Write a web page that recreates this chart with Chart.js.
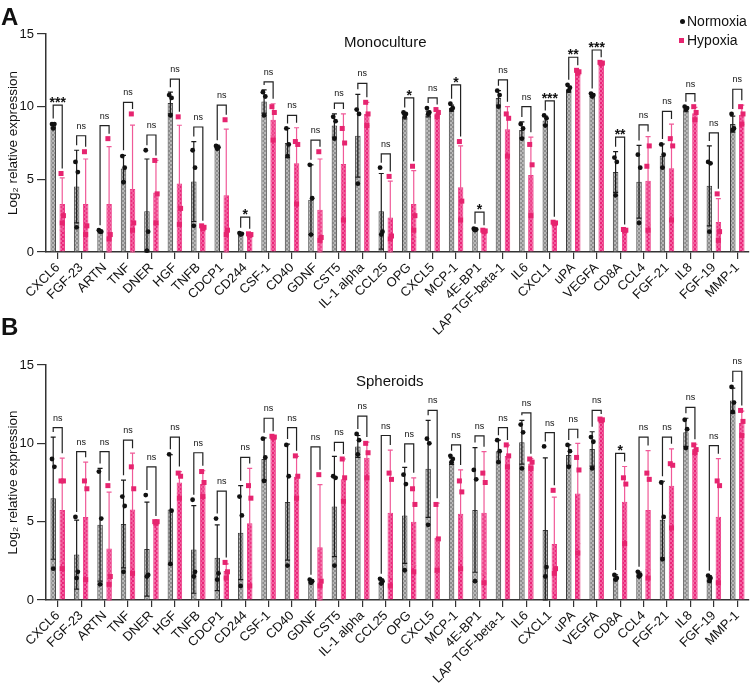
<!DOCTYPE html>
<html lang="en">
<head>
<meta charset="UTF-8">
<title>Monoculture / Spheroids</title>
<script src="https://cdn.jsdelivr.net/npm/chart.js"></script>
<style>
  body { margin: 0; background: #fff; font-family: 'Liberation Sans', Arial, sans-serif; }
  #wrap { position: relative; width: 750px; height: 690px; }
  canvas { position: absolute; left: 0; }
  .txt { position: absolute; white-space: nowrap; color: #111; }
  .letter { font-weight: bold; font-size: 24px; line-height: 24px; }
  .title { font-size: 15px; line-height: 15px; }
  .leg { font-size: 14px; line-height: 14px; }
  .dot { position: absolute; width: 5px; height: 5px; border-radius: 50%; background: #111; }
  .sq { position: absolute; width: 5px; height: 5px; background: #e6246f; }
</style>
</head>
<body>
<div id="wrap">
  <canvas id="chartA" width="750" height="345" style="top:0"></canvas>
  <canvas id="chartB" width="750" height="360" style="top:330px"></canvas>

  <div class="txt letter" style="left:1px; top:5px;">A</div>
  <div class="txt letter" style="left:1px; top:315px;">B</div>
  <div class="txt title" style="left:344px; top:34px;">Monoculture</div>
  <div class="txt title" style="left:356px; top:373px;">Spheroids</div>

  <div class="dot" style="left:680px; top:19px;"></div>
  <div class="txt leg" style="left:687px; top:14px;">Normoxia</div>
  <div class="sq" style="left:679px; top:38px;"></div>
  <div class="txt leg" style="left:687px; top:33px;">Hypoxia</div>
</div>

<script>
// categories (same for both panels)
const labels = ['CXCL6', 'FGF-23', 'ARTN', 'TNF', 'DNER', 'HGF', 'TNFB', 'CDCP1', 'CD244', 'CSF-1',
  'CD40', 'GDNF', 'CST5', 'IL-1 alpha', 'CCL25', 'OPG', 'CXCL5', 'MCP-1', '4E-BP1', 'LAP TGF-beta-1',
  'IL6', 'CXCL1', 'uPA', 'VEGFA', 'CD8A', 'CCL4', 'FGF-21', 'IL8', 'FGF-19', 'MMP-1'];
const yTicks = [0, 5, 10, 15];

// A: Monoculture
const monoNormMean = [8.7, 4.5, 1.45, 5.75, 2.8, 10.25, 4.85, 7.25, 1.27, 10.35, 7.5, 3.6, 8.7, 8.0, 2.8,
  9.3, 9.5, 9.9, 1.55, 10.6, 8.4, 9.05, 11.2, 10.8, 5.5, 4.83, 6.63, 9.8, 4.55, 8.8];
const monoNormSD = [0.15, 2.5, 0.05, 0.9, 3.6, 0.75, 2.75, 0.1, 0.05, 0.8, 1.0, 2.4, 0.8, 2.85, 2.6,
  0.15, 0.2, 0.2, 0.05, 0.5, 0.55, 0.3, 0.2, 0.1, 1.4, 2.5, 0.8, 0.15, 2.75, 0.55];
const monoNormPts = [[8.8, 8.8, 8.5], [6.2, 5.5, 1.7], [1.5, 1.4, 1.4], [6.6, 5.8, 4.8], [7.0, 1.4, 0.1],
  [10.8, 10.6, 9.4], [7.0, 5.8, 1.8], [7.3, 7.2, 7.1], [1.3, 1.25, 1.2], [11.0, 10.7, 9.4],
  [8.5, 7.4, 6.6], [6.0, 3.7, 1.2], [9.3, 9.0, 7.8], [9.8, 9.5, 4.7], [5.8, 1.4, 1.2],
  [9.6, 9.5, 9.3], [9.9, 9.6, 9.5], [10.2, 9.9, 9.8], [1.6, 1.55, 1.5], [11.1, 10.8, 10.0],
  [8.8, 8.5, 7.8], [9.4, 9.2, 8.7], [11.5, 11.3, 11.1], [10.9, 10.8, 10.7], [6.5, 6.2, 3.9],
  [6.7, 5.8, 2.0], [7.4, 6.7, 5.8], [10.0, 9.9, 9.8], [6.2, 6.1, 1.4], [9.5, 8.5, 8.4]];
const monoHypMean = [3.3, 3.3, 3.3, 4.33, 4.1, 4.72, 1.68, 3.9, 1.2, 9.1, 6.1, 2.9, 6.06, 9.5, 2.37,
  3.3, 9.55, 4.45, 1.45, 8.45, 5.3, 2.03, 12.4, 13.0, 1.5, 4.9, 5.77, 9.55, 2.07, 9.44];
const monoHypSD = [1.8, 3.1, 3.95, 4.4, 2.2, 4.0, 0.1, 4.55, 0.05, 1.1, 2.45, 3.5, 3.44, 0.8, 2.5,
  2.3, 0.2, 2.85, 0.05, 1.55, 2.6, 0.05, 0.1, 0.05, 0.05, 3.04, 3.03, 0.4, 1.6, 0.66];
const monoHypPts = [[5.4, 2.5, 2.0], [6.9, 1.8, 1.2], [7.8, 1.2, 0.9], [9.5, 2.0, 1.5], [6.3, 4.0, 2.0],
  [9.3, 3.0, 1.9], [1.8, 1.7, 1.6], [9.1, 1.5, 1.2], [1.25, 1.2, 1.15], [10.0, 9.6, 7.7],
  [7.6, 7.4, 3.3], [6.9, 1.0, 0.8], [8.5, 7.5, 2.2], [10.3, 9.5, 8.7], [5.2, 1.1, 0.9],
  [5.9, 2.5, 1.5], [9.8, 9.6, 9.3], [7.6, 3.5, 2.2], [1.5, 1.45, 1.4], [9.5, 9.2, 6.6],
  [7.4, 6.0, 2.5], [2.05, 2.0, 1.95], [12.5, 12.4, 12.3], [13.05, 13.0, 12.95], [1.55, 1.5, 1.45],
  [5.9, 7.3, 1.5], [7.8, 7.3, 2.2], [10.0, 9.6, 9.1], [4.0, 1.4, 0.8], [10.0, 9.5, 8.8]];
const monoSig = ['***', 'ns', 'ns', 'ns', 'ns', 'ns', 'ns', 'ns', '*', 'ns', 'ns', 'ns', 'ns', 'ns', 'ns',
  '*', 'ns', '*', '*', 'ns', 'ns', '***', '**', '***', '**', 'ns', 'ns', 'ns', 'ns', 'ns'];
const monoBracket = [10.1, 8.0, 8.7, 10.3, 8.05, 11.9, 8.6, 10.1, 2.4, 11.7, 9.4, 7.7, 10.25, 11.6, 6.75,
  10.6, 10.6, 11.5, 2.75, 11.85, 10.0, 10.4, 13.4, 13.9, 7.9, 8.75, 9.67, 10.9, 8.2, 11.2];

// B: Spheroids
const sphNormMean = [6.5, 2.9, 4.8, 4.85, 3.25, 5.77, 3.23, 2.7, 4.3, 9.0, 6.25, 1.2, 5.97, 9.8, 1.2,
  5.4, 8.37, 8.85, 5.75, 9.5, 10.07, 4.47, 9.25, 9.64, 1.45, 1.66, 5.13, 10.7, 1.4, 12.73];
const sphNormSD = [3.9, 2.2, 3.6, 2.8, 3.0, 3.5, 2.8, 2.1, 3.0, 1.35, 3.7, 0.1, 3.2, 0.7, 0.15,
  3.06, 3.1, 0.2, 3.98, 0.7, 1.4, 4.6, 0.65, 1.1, 0.15, 0.12, 2.45, 0.9, 0.15, 0.8];
const sphNormPts = [[9.0, 8.5, 2.0], [5.3, 1.8, 1.4], [8.2, 5.2, 1.0], [6.6, 6.0, 1.8], [6.7, 1.6, 1.5],
  [9.3, 5.7, 2.3], [6.4, 1.8, 1.5], [5.2, 1.7, 1.3], [6.6, 5.4, 0.9], [10.3, 9.1, 7.6],
  [9.9, 7.9, 2.2], [1.3, 1.2, 1.1], [7.9, 7.8, 2.2], [10.6, 10.2, 9.3], [1.35, 1.2, 1.05],
  [8.0, 7.4, 1.9], [10.3, 10.0, 4.8], [9.2, 9.0, 8.8], [8.3, 7.7, 1.2], [10.2, 9.5, 8.8],
  [11.2, 10.7, 8.4], [9.8, 2.1, 1.5], [9.9, 9.5, 8.5], [10.4, 10.1, 8.4], [1.6, 1.4, 1.3],
  [1.8, 1.6, 1.5], [7.5, 5.3, 2.6], [11.5, 10.9, 9.7], [1.55, 1.4, 1.2], [13.6, 12.6, 12.0]];
const sphHypMean = [5.75, 5.3, 3.28, 5.77, 4.95, 7.5, 7.4, 1.85, 4.9, 10.4, 7.87, 3.36, 7.7, 9.08, 5.57,
  5.0, 3.98, 5.5, 5.57, 9.19, 8.72, 3.57, 6.8, 11.5, 6.27, 5.74, 7.3, 9.64, 5.32, 11.3];
const sphHypSD = [3.3, 3.5, 3.6, 3.6, 0.1, 0.7, 0.85, 0.45, 3.5, 0.05, 1.3, 4.0, 1.3, 1.0, 4.0,
  2.8, 2.2, 2.8, 3.9, 0.7, 0.3, 3.0, 3.2, 0.05, 2.25, 3.8, 2.35, 0.3, 3.7, 0.75];
const sphHypPts = [[7.6, 7.6, 2.0], [7.6, 7.1, 1.3], [7.3, 1.5, 1.0], [8.5, 7.1, 1.7], [5.0, 5.0, 4.9],
  [8.1, 7.9, 6.5], [8.2, 7.5, 6.6], [2.4, 1.8, 1.4], [7.3, 6.5, 0.9], [10.45, 10.4, 10.35],
  [9.2, 7.9, 6.5], [8.0, 1.2, 0.9], [9.0, 7.8, 6.3], [10.0, 9.4, 7.8], [8.1, 7.7, 0.9],
  [7.1, 6.1, 1.8], [6.1, 3.9, 1.9], [7.6, 6.9, 2.0], [8.1, 7.5, 1.1], [9.9, 9.2, 8.5],
  [9.0, 8.8, 8.4], [7.0, 2.0, 1.7], [9.1, 8.3, 3.0], [11.55, 11.5, 11.45], [7.8, 7.4, 3.6],
  [8.1, 7.7, 1.4], [8.7, 8.6, 4.6], [9.9, 9.6, 9.4], [7.6, 7.3, 1.1], [12.1, 11.4, 10.5]];
const sphSig = ['ns', 'ns', 'ns', 'ns', 'ns', 'ns', 'ns', 'ns', 'ns', 'ns', 'ns', 'ns', 'ns', 'ns', 'ns',
  'ns', 'ns', 'ns', 'ns', 'ns', 'ns', 'ns', 'ns', 'ns', '*', 'ns', 'ns', 'ns', 'ns', 'ns'];
const sphBracket = [11.0, 9.47, 9.47, 10.2, 8.5, 10.4, 9.4, 6.95, 9.1, 11.6, 11.0, 9.78, 10.06, 11.74, 10.5,
  9.96, 12.1, 9.9, 10.47, 11.0, 11.95, 10.68, 10.9, 12.1, 9.36, 10.4, 10.4, 12.3, 9.85, 14.6];

const FONT = "'Liberation Sans', Arial, sans-serif";
const AXIS = '#333';
Chart.defaults.font.family = FONT;
Chart.defaults.color = '#111';

// checkered fills like the original bars
function checker(base, light) {
  const c = document.createElement('canvas');
  c.width = 4; c.height = 4;
  const g = c.getContext('2d');
  g.fillStyle = base; g.fillRect(0, 0, 4, 4);
  g.fillStyle = light; g.fillRect(0, 0, 2, 2); g.fillRect(2, 2, 2, 2);
  return g.createPattern(c, 'repeat');
}
const greyFill = checker('#8c8c8c', '#b8b8b8');
const pinkFill = checker('#ea2479', '#f2609e');

// error bars, replicate points and significance brackets
function overlay(d) {
  return {
    id: 'overlay',
    afterDatasetsDraw(chart) {
      const ctx = chart.ctx, y = chart.scales.y;
      const groups = [
        { meta: chart.getDatasetMeta(0), mean: d.nMean, sd: d.nSD, pts: d.nPts, err: '#1a1a1a', pt: '#111', sq: false },
        { meta: chart.getDatasetMeta(1), mean: d.hMean, sd: d.hSD, pts: d.hPts, err: '#f05a98', pt: '#e6246f', sq: true }
      ];
      const jit = [-1.2, 1.2, 0];
      ctx.save();
      groups.forEach(g => {
        g.meta.data.forEach((bar, i) => {
          const x = bar.x;
          const t = y.getPixelForValue(g.mean[i] + g.sd[i]);
          const b = y.getPixelForValue(Math.max(0, g.mean[i] - g.sd[i]));
          ctx.strokeStyle = g.err; ctx.lineWidth = 1.2;
          ctx.beginPath();
          ctx.moveTo(x, t); ctx.lineTo(x, b);
          ctx.moveTo(x - 2.5, t); ctx.lineTo(x + 2.5, t);
          ctx.moveTo(x - 2.5, b); ctx.lineTo(x + 2.5, b);
          ctx.stroke();
        });
      });
      groups.forEach(g => {
        g.meta.data.forEach((bar, i) => {
          g.pts[i].forEach((v, k) => {
            const px = bar.x + jit[k], py = y.getPixelForValue(v);
            ctx.fillStyle = g.pt;
            if (g.sq) {
              ctx.fillRect(px - 2.5, py - 2.5, 5, 5);
            } else {
              ctx.beginPath(); ctx.arc(px, py, 2.4, 0, Math.PI * 2); ctx.fill();
            }
          });
        });
      });
      // brackets
      const m0 = groups[0].meta.data, m1 = groups[1].meta.data;
      ctx.strokeStyle = '#222'; ctx.lineWidth = 1.2; ctx.fillStyle = '#111';
      ctx.textAlign = 'center'; ctx.textBaseline = 'alphabetic';
      d.bracket.forEach((v, i) => {
        const xl = m0[i].x, xr = m1[i].x;
        const yt = y.getPixelForValue(v);
        const topL = Math.max(d.nMean[i] + d.nSD[i], ...d.nPts[i]);
        const topR = Math.max(d.hMean[i] + d.hSD[i], ...d.hPts[i]);
        const yl = Math.max(yt + 2, y.getPixelForValue(topL) - 5);
        const yr = Math.max(yt + 2, y.getPixelForValue(topR) - 5);
        ctx.beginPath();
        ctx.moveTo(xl, yl); ctx.lineTo(xl, yt); ctx.lineTo(xr, yt); ctx.lineTo(xr, yr);
        ctx.stroke();
        const s = d.sig[i];
        if (s === 'ns') {
          ctx.font = '9px ' + FONT;
          ctx.fillText(s, (xl + xr) / 2, yt - 7);
        } else {
          ctx.font = 'bold 14px ' + FONT;
          ctx.fillText(s, (xl + xr) / 2, yt + 2);
        }
      });
      ctx.restore();
    }
  };
}

function makeChart(id, topPad, xHeight, d) {
  return new Chart(document.getElementById(id), {
    type: 'bar',
    data: {
      labels: labels,
      datasets: [
        { label: 'Normoxia', data: d.nMean, backgroundColor: greyFill, borderColor: '#3d3d3d', borderWidth: 1 },
        { label: 'Hypoxia', data: d.hMean, backgroundColor: pinkFill, borderColor: '#ec3a86', borderWidth: 1 }
      ]
    },
    options: {
      responsive: false,
      animation: false,
      devicePixelRatio: 1,
      categoryPercentage: 0.77,
      barPercentage: 0.61,
      layout: { padding: { top: topPad, right: 1, left: 0, bottom: 0 } },
      plugins: { legend: { display: false }, tooltip: { enabled: false } },
      scales: {
        x: {
          grid: { offset: false, drawOnChartArea: false, drawTicks: true, tickLength: 7, color: AXIS, lineWidth: 1.2 },
          border: { display: true, color: AXIS, width: 1.5 },
          ticks: { autoSkip: false, maxRotation: 45, minRotation: 45, padding: 1, color: '#111', font: { size: 13 } },
          afterFit(s) { s.height = xHeight; s.paddingLeft = 0; s.paddingRight = 0; }
        },
        y: {
          min: 0, max: 15,
          afterBuildTicks(s) { s.ticks = yTicks.map(v => ({ value: v })); },
          grid: { drawOnChartArea: false, drawTicks: true, tickLength: 9, color: AXIS, lineWidth: 1.2 },
          border: { display: true, color: AXIS, width: 1.5 },
          ticks: { padding: 3, color: '#111', font: { size: 13 } },
          title: { display: true, text: 'Log\u2082 relative expression', color: '#111', font: { size: 13.5 }, padding: { top: 5, bottom: 0 } },
          afterFit(s) { s.width = 46; s.paddingTop = 0; s.paddingBottom = 0; }
        }
      }
    },
    plugins: [overlay(d)]
  });
}

makeChart('chartA', 34, 93, {
  nMean: monoNormMean, nSD: monoNormSD, nPts: monoNormPts,
  hMean: monoHypMean, hSD: monoHypSD, hPts: monoHypPts,
  sig: monoSig, bracket: monoBracket
});
makeChart('chartB', 35, 90, {
  nMean: sphNormMean, nSD: sphNormSD, nPts: sphNormPts,
  hMean: sphHypMean, hSD: sphHypSD, hPts: sphHypPts,
  sig: sphSig, bracket: sphBracket
});
</script>
</body>
</html>
